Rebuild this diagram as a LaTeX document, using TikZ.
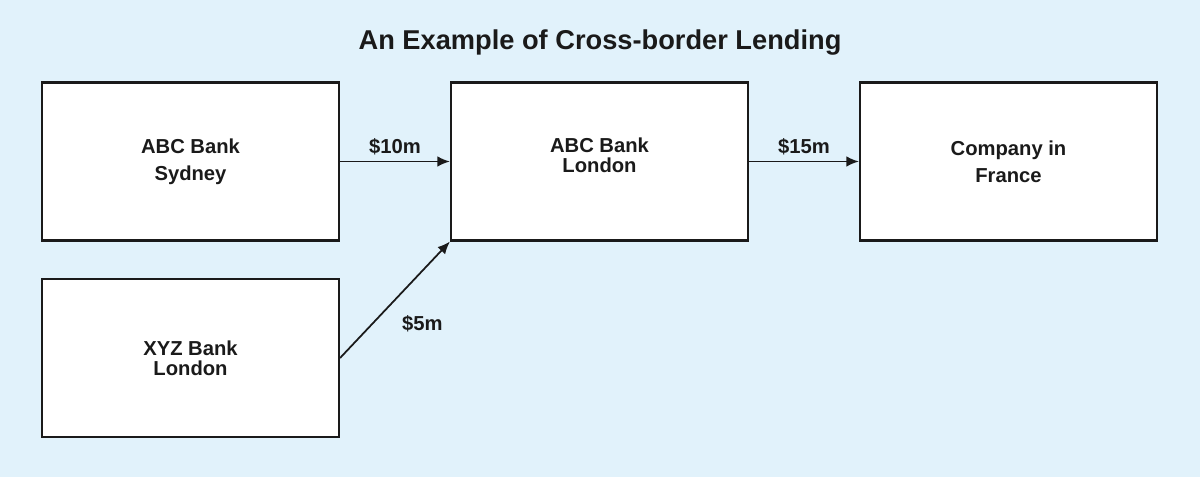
\documentclass[tikz,border=0pt]{standalone}
\usepackage{fontspec}
\setmainfont{Liberation Sans}
\usetikzlibrary{positioning, arrows.meta}
\definecolor{skyback}{HTML}{E1F2FB}
\definecolor{inkblack}{HTML}{1A1A1A}

\begin{document}
\begin{tikzpicture}[node distance = 8.18cm,on grid,auto,align=center,
    bank/.style={draw=inkblack, line width=1.2pt, fill=white, minimum width=5.94cm, minimum height=3.16cm, text=inkblack, font=\bfseries\fontsize{11.5}{15.4}\selectfont},
    amount/.style={text=inkblack, font=\bfseries\fontsize{11.5}{11.3}\selectfont},
    flow/.style={color=inkblack, line width=1pt, -{Latex[length=2.5mm,width=2.1mm]}}]
    \fill[skyback] (0,0) rectangle (24,-9.54);
    \node[text=inkblack, font=\bfseries\fontsize{15.5}{18}\selectfont] (title) at (12,-0.86) {An Example of Cross-border Lending};
    \node[bank] (sydney) at (3.81,-3.23) {ABC Bank\\Sydney};
    \node[bank, label={[amount, align=center, yshift=0.12cm]center:{ABC Bank\\London}}] (london) [right = of sydney] {};
    \node[bank] (france) [right = of london] {Company in\\France};
    \node[bank, font=\bfseries\fontsize{11.5}{11.3}\selectfont] (xyz) [below = 3.93cm of sydney] {XYZ Bank\\London};
    \path[flow]
    (sydney) edge node[amount] {\$10m} (london)
    (london) edge node[amount] {\$15m} (france)
    (xyz.east) edge node[amount, pos=0.45, anchor=north west, xshift=0.12cm, yshift=-0.06cm] {\$5m} (london.south west)
    ;
\end{tikzpicture}
\end{document}
